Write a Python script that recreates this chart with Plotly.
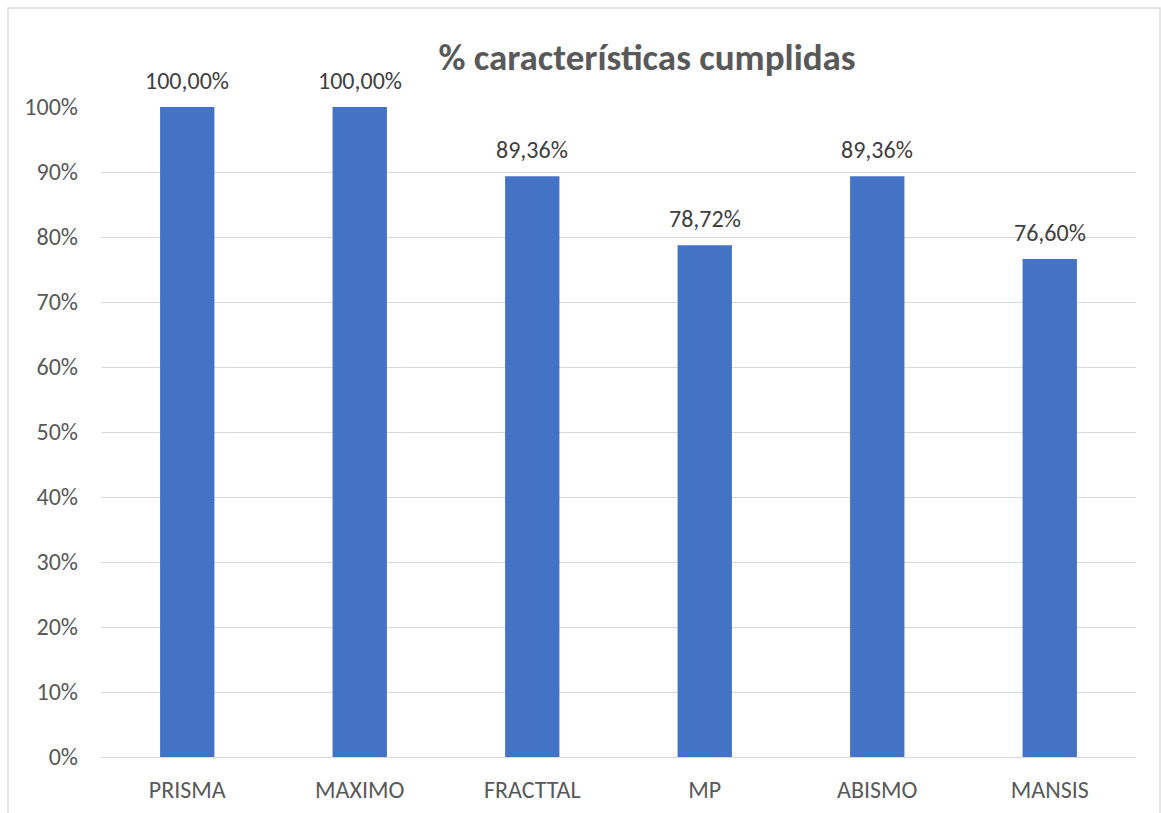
import plotly.graph_objects as go

categories = ["PRISMA", "MAXIMO", "FRACTTAL", "MP", "ABISMO", "MANSIS"]
values = [100.00, 100.00, 89.36, 78.72, 89.36, 76.60]
y_ticks = list(range(0, 101, 10))
y_tick_labels = [f"{t}%" for t in y_ticks]
title_text = "% características cumplidas"

labels = [f"{v:.2f}".replace(".", ",") + "%" for v in values]
FONT = "Carlito, Calibri, Lato, sans-serif"

fig = go.Figure()
fig.add_trace(go.Bar(
    x=categories, y=values,
    marker=dict(color="#4472C4", line=dict(width=0)),
    width=0.315,
    hoverinfo="skip",
))

for c, v, t in zip(categories, values, labels):
    fig.add_annotation(x=c, y=v, text=t, showarrow=False, yanchor="bottom",
                       yshift=10, font=dict(family=FONT, size=24, color="#404040"))

fig.update_layout(
    width=1161, height=813,
    margin=dict(l=101, r=25, t=107, b=56),
    paper_bgcolor="white", plot_bgcolor="white",
    showlegend=False,
    title=dict(text=f"<b>{title_text}</b>", x=647/1161, xanchor="center", xref="container",
               y=1 - 57/813, yanchor="middle", yref="container",
               font=dict(family=FONT, size=37, color="#595959")),
    xaxis=dict(showgrid=False, showline=False, zeroline=False, ticks="",
               tickfont=dict(family=FONT, size=24, color="#595959"),
               ticklabelstandoff=16, automargin=False),
    yaxis=dict(range=[0, 100], tickvals=y_ticks, ticktext=y_tick_labels,
               showgrid=True, gridcolor="#D9D9D9", gridwidth=1.3,
               zeroline=True, zerolinecolor="#D9D9D9", zerolinewidth=1.3,
               showline=False, ticks="",
               tickfont=dict(family=FONT, size=24, color="#595959"),
               ticklabelstandoff=22, automargin=False),
    shapes=[dict(type="rect", xref="paper", yref="paper",
                 x0=-93/1035, x1=1160/1035 - 101/1035, y0=-0.2, y1=1 + 99/650,
                 line=dict(color="#D9D9D9", width=1.3), fillcolor="rgba(0,0,0,0)", layer="below")],
)
fig.write_html("out.html")
